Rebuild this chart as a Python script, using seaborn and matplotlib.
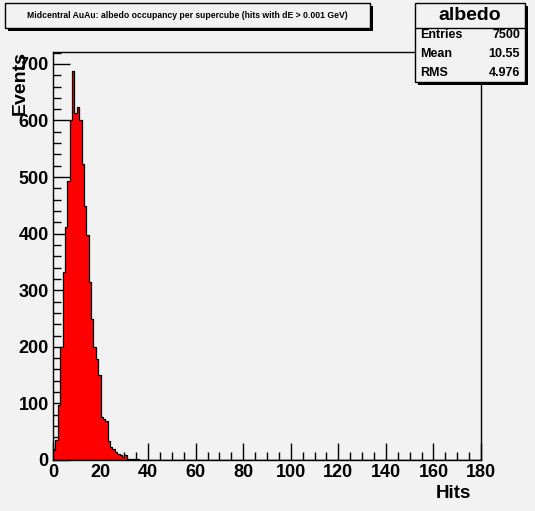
import pandas as pd
import matplotlib
matplotlib.use("Agg")
import matplotlib.pyplot as plt
from matplotlib.patches import Rectangle
from matplotlib.lines import Line2D
from matplotlib.ticker import MultipleLocator
import seaborn as sns

# hits per supercube (bin low edge) and number of events in that bin
hits = [0, 1, 2, 3, 4, 5, 6, 7, 8, 9, 10, 11, 12, 13, 14, 15, 16, 17,
        18, 19, 20, 21, 22, 23, 24, 25, 26, 27, 28, 29, 30, 31, 32, 33, 34, 35]
events = [18, 36, 97, 200, 333, 412, 493, 601, 687, 614, 624, 601, 523, 448, 397, 314, 250, 200,
          179, 150, 76, 72, 69, 33, 23, 19, 15, 11, 8, 5, 8, 2, 1, 2, 1, 1]

title = "Midcentral AuAu: albedo occupancy per supercube (hits with dE > 0.001 GeV)"
stats_name = "albedo"
stats_labels = ["Entries", "Mean", "RMS"]
stats_values = ["7500", "10.55", "4.976"]

df = pd.DataFrame({"hits": hits, "events": events})

W, H = 535, 511
bg = "#f2f2f2"

sns.set_style("ticks")
plt.rcParams['font.family'] = ['Liberation Sans', 'DejaVu Sans']
plt.rcParams['font.weight'] = 'bold'
plt.rcParams['text.color'] = 'black'


def fx(px):
    return px / W


def fy(py):
    return 1 - py / H


fig = plt.figure(figsize=(W / 100, H / 100), dpi=100, facecolor=bg)
ax = fig.add_axes([fx(53), fy(460), fx(481) - fx(53), fy(52) - fy(460)])
ax.set_facecolor(bg)

sns.histplot(data=df, x="hits", weights="events", binwidth=1, binrange=(0, 180), element="step",
             fill=True, color="red", edgecolor="black", linewidth=0.9, alpha=1, ax=ax)

ax.set_xlim(0, 180)
ax.set_ylim(0, 721)
ax.set_xlabel("")
ax.set_ylabel("")
ax.xaxis.set_major_locator(MultipleLocator(20))
ax.xaxis.set_minor_locator(MultipleLocator(5))
ax.yaxis.set_major_locator(MultipleLocator(100))
ax.yaxis.set_minor_locator(MultipleLocator(20))
ax.tick_params(which="major", direction="in", length=12, width=1, color="black",
               labelsize=13, labelcolor="black", pad=3)
ax.tick_params(which="minor", direction="in", length=6, width=1, color="black")
for s in ax.spines.values():
    s.set_visible(True)
    s.set_color("black")
    s.set_linewidth(1)

# axis titles, ROOT style
fig.text(fx(20), fy(51), "Events", rotation=90, ha="center", va="top",
         fontsize=14, fontweight="bold")
fig.text(fx(471), fy(493), "Hits", ha="right", va="center",
         fontsize=13.5, fontweight="bold")

# title box with shadow
fig.add_artist(Rectangle((fx(8), fy(31)), fx(373) - fx(8), fy(6) - fy(31),
                         transform=fig.transFigure, facecolor="black", edgecolor="none"))
fig.add_artist(Rectangle((fx(5), fy(28)), fx(370) - fx(5), fy(3) - fy(28),
                         transform=fig.transFigure, facecolor=bg, edgecolor="black", lw=1))
fig.text(fx(187), fy(16), title, ha="center", va="center", fontsize=6.2, fontweight="bold")

# stats box with shadow
fig.add_artist(Rectangle((fx(418), fy(85)), fx(528) - fx(418), fy(6) - fy(85),
                         transform=fig.transFigure, facecolor="black", edgecolor="none"))
fig.add_artist(Rectangle((fx(415), fy(82)), fx(525) - fx(415), fy(3) - fy(82),
                         transform=fig.transFigure, facecolor=bg, edgecolor="black", lw=1))
fig.add_artist(Line2D([fx(415), fx(525)], [fy(28), fy(28)], transform=fig.transFigure,
                      color="black", lw=1))
fig.text(fx(470), fy(15), stats_name, ha="center", va="center", fontsize=14, fontweight="bold")
for i, (lab, val) in enumerate(zip(stats_labels, stats_values)):
    yy = fy(35 + 19 * i)
    fig.text(fx(420), yy, lab, ha="left", va="center", fontsize=9, fontweight="bold")
    fig.text(fx(520), yy, val, ha="right", va="center", fontsize=9, fontweight="bold")

fig.savefig("out.png", dpi=100, facecolor=bg)
